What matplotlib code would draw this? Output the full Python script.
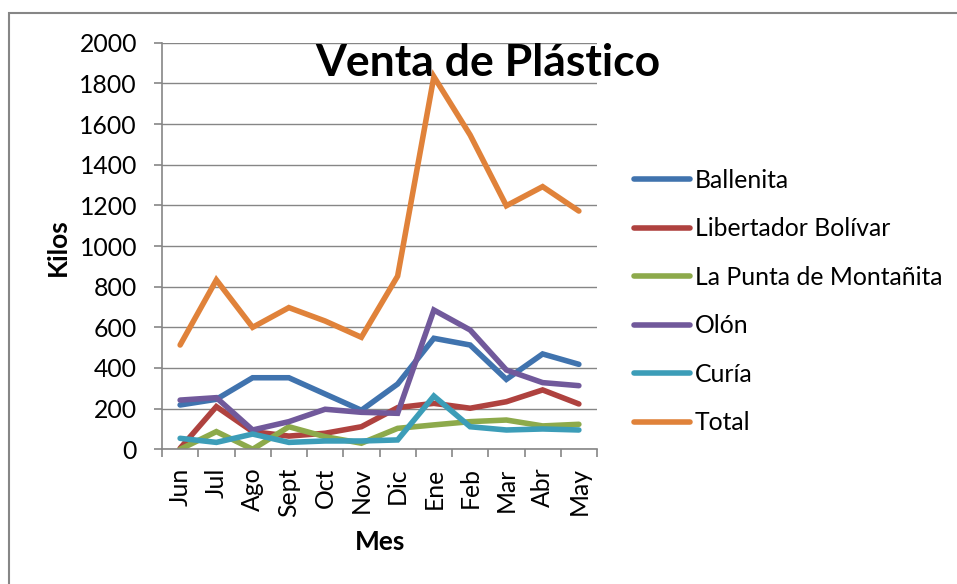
import matplotlib
matplotlib.use("Agg")
import matplotlib.pyplot as plt
from matplotlib.patches import Rectangle

plt.rcParams['font.family'] = ['Lato', 'DejaVu Sans']

months = ["Jun", "Jul", "Ago", "Sept", "Oct", "Nov", "Dic", "Ene", "Feb", "Mar", "Abr", "May"]
ballenita = [218, 246, 352, 352, 272, 192, 321, 546, 513, 344, 469, 418]
libertador = [5, 210, 87, 65, 79, 111, 205, 226, 202, 234, 292, 223]
punta = [0, 87, 0, 111, 62, 30, 103, 120, 136, 144, 115, 123]
olon = [242, 254, 95, 136, 197, 182, 177, 685, 587, 390, 328, 313]
curia = [54, 34, 75, 34, 41, 41, 46, 262, 111, 95, 100, 95]
total = [513, 833, 600, 697, 631, 551, 852, 1833, 1546, 1198, 1292, 1172]
yticks = [0, 200, 400, 600, 800, 1000, 1200, 1400, 1600, 1800, 2000]

series = [
    ("Ballenita", ballenita, "#4073AE"),
    ("Libertador Bolívar", libertador, "#AF423F"),
    ("La Punta de Montañita", punta, "#8DAA4B"),
    ("Olón", olon, "#71599B"),
    ("Curía", curia, "#3C9DB8"),
    ("Total", total, "#E0823A"),
]

W, H = 957, 584
fig = plt.figure(figsize=(W / 100, H / 100), dpi=100)
fig.patch.set_facecolor("white")

ax = fig.add_axes([162 / W, 1 - 449.3 / H, (597 - 162) / W, (449.3 - 42.7) / H])
x = list(range(len(months)))
for name, vals, col in series:
    ax.plot(x, vals, color=col, lw=4.0, label=name, solid_capstyle="round", solid_joinstyle="miter")

grid_c = "#868686"
fs = 17.8
ax.set_xlim(-0.5, len(months) - 0.5)
ax.set_ylim(0, 2000)
ax.set_yticks(yticks)
ax.set_yticklabels([str(v) for v in yticks])
ax.yaxis.grid(True, color=grid_c, lw=1.0)
ax.set_axisbelow(True)
for s in ["top", "right"]:
    ax.spines[s].set_visible(False)
for s in ["left", "bottom"]:
    ax.spines[s].set_color(grid_c)
    ax.spines[s].set_linewidth(1.2)

ax.set_xticks(x)
ax.set_xticklabels(months, rotation=90, va="top", ha="center")
ax.set_xticks([i - 0.5 for i in range(len(months) + 1)], minor=True)
ax.tick_params(axis="x", which="major", length=0, pad=13, labelsize=fs)
ax.tick_params(axis="x", which="minor", length=6, width=1.2, color=grid_c, direction="out")
ax.tick_params(axis="y", which="major", length=6, width=1.2, color=grid_c, direction="out", pad=12, labelsize=fs)

ax.set_xlabel("Mes", fontsize=19, fontweight="bold", va="center")
ax.xaxis.set_label_coords((380 - 162) / 435, (449.3 - 542) / 406.6)
ax.set_ylabel("Kilos", fontsize=19, fontweight="bold", va="center")
ax.yaxis.set_label_coords((58 - 162) / 435, (449.3 - 247) / 406.6)

fig.text(487.5 / W, 1 - 63 / H, "Venta de Plástico", fontsize=32, fontweight="bold",
         ha="center", va="center")

leg = fig.legend(loc="center left", bbox_to_anchor=(634 / W, 1 - 301.5 / H), frameon=False,
                 fontsize=fs, handlelength=2.25, handletextpad=0.2, labelspacing=1.03,
                 borderpad=0, borderaxespad=0)
for h in leg.get_lines():
    h.set_linewidth(4.0)

fig.patches.append(Rectangle((9 / W, -0.1), 1.2, (H - 13) / H + 0.1, transform=fig.transFigure,
                             fill=False, edgecolor=grid_c, lw=1.5))

fig.savefig("out.png", dpi=100)
